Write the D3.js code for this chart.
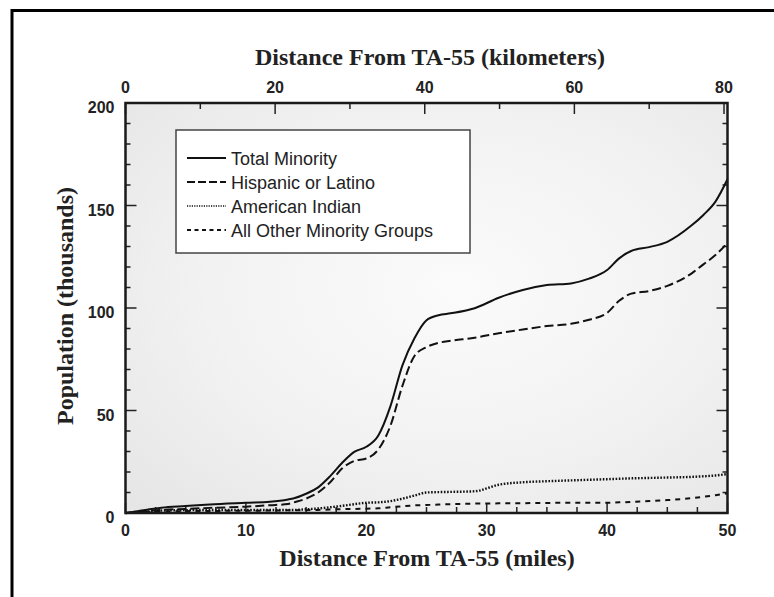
<!DOCTYPE html>
<html>
<head>
<meta charset="utf-8">
<script src="https://cdn.jsdelivr.net/npm/d3@7"></script>
<style>
  body { margin: 0; background: #fff; }
  .tick-label { font-family: "Liberation Sans", Arial, sans-serif; font-weight: bold; font-size: 16px; fill: #222; }
  .title { font-family: "Liberation Serif", "Times New Roman", serif; font-weight: bold; font-size: 24px; fill: #222; }
  .legend-text { font-family: "Liberation Sans", Arial, sans-serif; font-size: 18px; fill: #222; }
</style>
</head>
<body>
<script>
// distance from TA-55 in miles (shared x values for every series)
const miles = [0, 1, 2, 3, 5, 7, 10, 12, 13.5, 14, 15, 16, 17, 18, 19, 20, 21, 22, 23, 24, 25,
  26, 27, 29, 31, 33, 35, 37, 38.5, 40, 41, 42, 43.5, 45, 47, 48, 49, 50];

// population in thousands
const totalMinority = [0, 0.8, 1.8, 2.6, 3.4, 4.2, 5.0, 5.5, 6.6, 7.2, 9.4, 12.5, 18, 24.5, 29.8, 32.3, 37.8, 52, 72, 85.2, 94,
  96.5, 97.4, 99.9, 105, 108.8, 111.2, 112, 114.3, 118.5, 124.2, 127.8, 129.7, 132.3, 140.2, 145.4, 151.9, 162.8];
const hispanicLatino = [0, 0.4, 1, 1.5, 2, 2.5, 3.1, 3.8, 4.4, 5.2, 7, 10, 15, 21.8, 25.4, 26.6, 31, 42.5, 62, 76.6, 80.9,
  83, 84, 85.5, 87.7, 89.5, 91.2, 92.3, 94.3, 97.6, 103.5, 107, 108.3, 110.8, 116.8, 121.3, 125.8, 131.8];
const americanIndian = [0, 0.3, 0.8, 1.2, 1.4, 1.5, 1.5, 1.5, 1.5, 1.5, 1.8, 2.2, 2.8, 3.5, 4.3, 5.0, 5.2, 5.8, 7, 8.5, 10,
  10.2, 10.3, 10.6, 13.8, 15, 15.5, 15.9, 16.2, 16.5, 16.7, 16.9, 17.1, 17.3, 17.6, 17.9, 18.3, 19];
const allOther = [0, 0.2, 0.5, 0.7, 0.9, 1, 1.1, 1.2, 1.3, 1.3, 1.4, 1.5, 1.7, 1.9, 2, 2.1, 2.3, 2.8, 3.3, 3.7, 3.9,
  4.1, 4.3, 4.6, 4.7, 4.8, 4.9, 5, 5, 5, 5.2, 5.4, 5.8, 6.3, 7.2, 7.9, 8.7, 9.6];

const seriesNames = ["Total Minority", "Hispanic or Latino", "American Indian", "All Other Minority Groups"];
const seriesValues = [totalMinority, hispanicLatino, americanIndian, allOther];
const seriesDash = ["none", "9,4", "1.6,1.6", "5,5"];

// tick values
const mileTicks = [0, 10, 20, 30, 40, 50];
const kmTicks = [0, 20, 40, 60, 80];
const popTicks = [0, 50, 100, 150, 200];

const margin = { top: 103, left: 125.5 };
const width = 602;
const height = 410;

const svg = d3.select("body").append("svg")
  .attr("width", 774)
  .attr("height", 597);

// outer frame (only left and top edges are in the picture)
svg.append("path")
  .attr("d", "M12,597 V10.5 H774")
  .attr("fill", "none")
  .attr("stroke", "#000")
  .attr("stroke-width", 3);

// background gradient of the plot area
const grad = svg.append("defs").append("radialGradient")
  .attr("id", "bg").attr("cx", "0.55").attr("cy", "0.45").attr("r", "0.75");
grad.append("stop").attr("offset", "0%").attr("stop-color", "#fbfbfb");
grad.append("stop").attr("offset", "55%").attr("stop-color", "#f2f2f2");
grad.append("stop").attr("offset", "100%").attr("stop-color", "#e6e6e6");

const g = svg.append("g").attr("transform", `translate(${margin.left},${margin.top})`);

g.append("rect").attr("width", width).attr("height", height).attr("fill", "url(#bg)");

// scales
const x = d3.scaleLinear().domain([0, 50]).range([0, width]);
const xkm = d3.scaleLinear().domain([0, 50 * 1.609344]).range([0, width]);
const y = d3.scaleLinear().domain([0, 200]).range([height, 0]);

// ticks drawn inward, minor + major
function ticks(sel, vals, len, pos) {
  sel.selectAll(null).data(vals).join("line")
    .attr("stroke", "#222").attr("stroke-width", 1.5)
    .each(function (d) {
      const l = d3.select(this);
      if (pos === "bottom") l.attr("x1", x(d)).attr("x2", x(d)).attr("y1", height).attr("y2", height - len);
      if (pos === "top") l.attr("x1", xkm(d)).attr("x2", xkm(d)).attr("y1", 0).attr("y2", len);
      if (pos === "left") l.attr("x1", 0).attr("x2", len).attr("y1", y(d)).attr("y2", y(d));
      if (pos === "right") l.attr("x1", width).attr("x2", width - len).attr("y1", y(d)).attr("y2", y(d));
    });
}
const tickG = g.append("g");
ticks(tickG, d3.range(0, 50.01, 2.5).filter((d) => d % 10 !== 0), 6, "bottom");
ticks(tickG, mileTicks, 10, "bottom");
ticks(tickG, [10, 30, 50, 70], 6, "top");
ticks(tickG, kmTicks, 11, "top");
ticks(tickG, d3.range(10, 200, 10).filter((d) => d % 50 !== 0), 5, "left");
ticks(tickG, popTicks, 11, "left");
ticks(tickG, d3.range(10, 200, 10).filter((d) => d % 50 !== 0), 5, "right");
ticks(tickG, popTicks, 11, "right");

// lines
const line = d3.line().curve(d3.curveMonotoneX);
seriesValues.forEach((vals, i) => {
  g.append("path")
    .datum(miles.map((m, j) => [x(m), y(vals[j])]))
    .attr("d", line)
    .attr("fill", "none")
    .attr("stroke", "#111")
    .attr("stroke-width", i === 2 ? 2.4 : 2)
    .attr("stroke-dasharray", seriesDash[i]);
});

// plot border
g.append("rect").attr("width", width).attr("height", height)
  .attr("fill", "none").attr("stroke", "#1a1a1a").attr("stroke-width", 2.5);

// tick labels
g.selectAll(".xl").data(mileTicks).join("text")
  .attr("class", "tick-label").attr("text-anchor", "middle")
  .attr("x", (d) => x(d)).attr("y", height + 23).text((d) => d);
g.selectAll(".kl").data(kmTicks).join("text")
  .attr("class", "tick-label").attr("text-anchor", "middle")
  .attr("x", (d) => xkm(d)).attr("y", -10).text((d) => d);
g.selectAll(".yl").data(popTicks).join("text")
  .attr("class", "tick-label").attr("text-anchor", "end")
  .attr("x", -11).attr("y", (d) => y(d) + 10).text((d) => d);

// axis titles
svg.append("text").attr("class", "title").attr("text-anchor", "middle")
  .attr("x", 430).attr("y", 65).text("Distance From TA-55 (kilometers)");
svg.append("text").attr("class", "title").attr("text-anchor", "middle")
  .attr("x", 427).attr("y", 566).text("Distance From TA-55 (miles)");
svg.append("text").attr("class", "title").attr("text-anchor", "middle")
  .attr("transform", "translate(73,306) rotate(-90)").text("Population (thousands)");

// legend
const legend = svg.append("g").attr("transform", "translate(176,130)");
legend.append("rect").attr("width", 294).attr("height", 123)
  .attr("fill", "#fff").attr("stroke", "#444").attr("stroke-width", 1.5);
seriesNames.forEach((name, i) => {
  const yy = 28 + i * 24;
  legend.append("line")
    .attr("x1", 11).attr("x2", 50).attr("y1", yy).attr("y2", yy)
    .attr("stroke", "#111").attr("stroke-width", i === 2 ? 1.5 : 2)
    .attr("stroke-dasharray", i === 1 ? "8,3" : i === 2 ? "1.2,1.2" : i === 3 ? "4,3.5" : "none");
  legend.append("text").attr("class", "legend-text")
    .attr("x", 55).attr("y", yy + 7).text(name);
});
</script>
</body>
</html>
